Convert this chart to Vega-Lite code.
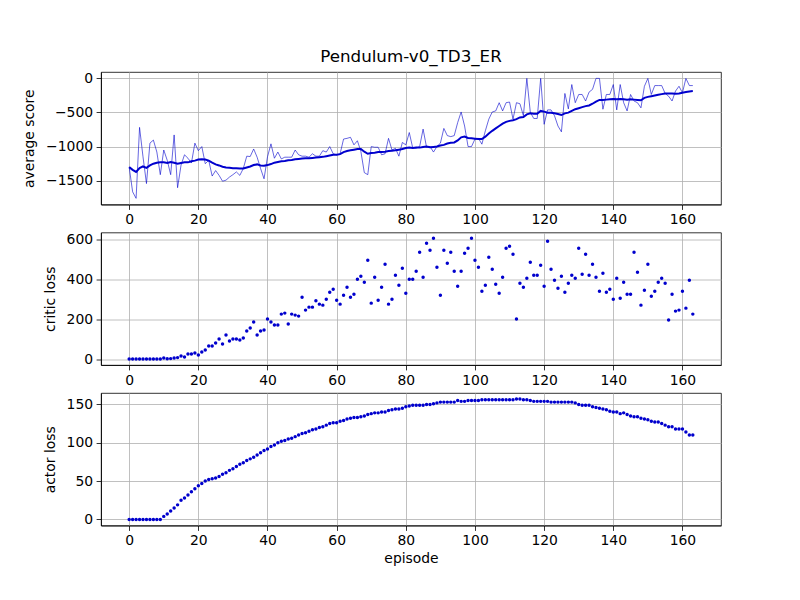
{
  "$schema": "https://vega.github.io/schema/vega-lite/v6.json",
  "description": "Pendulum-v0 TD3 with experience replay: score, critic loss and actor loss per episode",
  "background": "white",
  "padding": {"left": 22, "top": 48, "right": 5, "bottom": 5},
  "data": {
    "values": [
      {"ep": 0, "score": -1300, "avg": -1300, "critic": 0, "actor": 0},
      {"ep": 1, "score": -1660, "avg": -1340, "critic": 0, "actor": 0},
      {"ep": 2, "score": -1755, "avg": -1370, "critic": 0, "actor": 0},
      {"ep": 3, "score": -720, "avg": -1315, "critic": 0, "actor": 0},
      {"ep": 4, "score": -1150, "avg": -1290, "critic": 0, "actor": 0},
      {"ep": 5, "score": -1540, "avg": -1310, "critic": 0, "actor": 0},
      {"ep": 6, "score": -950, "avg": -1275, "critic": 0, "actor": 0},
      {"ep": 7, "score": -905, "avg": -1250, "critic": 0, "actor": 0},
      {"ep": 8, "score": -1080, "avg": -1235, "critic": 0, "actor": 0},
      {"ep": 9, "score": -1410, "avg": -1230, "critic": 0, "actor": 0},
      {"ep": 10, "score": -1050, "avg": -1230, "critic": 5, "actor": 4},
      {"ep": 11, "score": -1200, "avg": -1240, "critic": 1, "actor": 7},
      {"ep": 12, "score": -1410, "avg": -1225, "critic": 2, "actor": 11},
      {"ep": 13, "score": -830, "avg": -1235, "critic": 5, "actor": 15},
      {"ep": 14, "score": -1600, "avg": -1250, "critic": 7, "actor": 19},
      {"ep": 15, "score": -1270, "avg": -1240, "critic": 15, "actor": 25},
      {"ep": 16, "score": -1120, "avg": -1230, "critic": 10, "actor": 28},
      {"ep": 17, "score": -1170, "avg": -1230, "critic": 25, "actor": 32},
      {"ep": 18, "score": -1240, "avg": -1215, "critic": 25, "actor": 36},
      {"ep": 19, "score": -950, "avg": -1205, "critic": 30, "actor": 40},
      {"ep": 20, "score": -1060, "avg": -1190, "critic": 20, "actor": 44},
      {"ep": 21, "score": -1000, "avg": -1185, "critic": 35, "actor": 47},
      {"ep": 22, "score": -1250, "avg": -1190, "critic": 45, "actor": 50},
      {"ep": 23, "score": -1200, "avg": -1205, "critic": 65, "actor": 52},
      {"ep": 24, "score": -1430, "avg": -1235, "critic": 65, "actor": 53},
      {"ep": 25, "score": -1350, "avg": -1260, "critic": 80, "actor": 54},
      {"ep": 26, "score": -1420, "avg": -1275, "critic": 100, "actor": 56},
      {"ep": 27, "score": -1505, "avg": -1295, "critic": 75, "actor": 59},
      {"ep": 28, "score": -1490, "avg": -1305, "critic": 120, "actor": 61},
      {"ep": 29, "score": -1445, "avg": -1310, "critic": 90, "actor": 64},
      {"ep": 30, "score": -1410, "avg": -1315, "critic": 100, "actor": 66},
      {"ep": 31, "score": -1370, "avg": -1315, "critic": 100, "actor": 69},
      {"ep": 32, "score": -1420, "avg": -1320, "critic": 95, "actor": 72},
      {"ep": 33, "score": -1320, "avg": -1320, "critic": 105, "actor": 74},
      {"ep": 34, "score": -1140, "avg": -1305, "critic": 140, "actor": 77},
      {"ep": 35, "score": -1145, "avg": -1290, "critic": 155, "actor": 79},
      {"ep": 36, "score": -1035, "avg": -1270, "critic": 185, "actor": 81},
      {"ep": 37, "score": -1155, "avg": -1260, "critic": 120, "actor": 84},
      {"ep": 38, "score": -1320, "avg": -1275, "critic": 140, "actor": 87},
      {"ep": 39, "score": -1470, "avg": -1280, "critic": 145, "actor": 90},
      {"ep": 40, "score": -1150, "avg": -1270, "critic": 200, "actor": 92},
      {"ep": 41, "score": -960, "avg": -1255, "critic": 185, "actor": 95},
      {"ep": 42, "score": -1170, "avg": -1235, "critic": 170, "actor": 97},
      {"ep": 43, "score": -1080, "avg": -1225, "critic": 170, "actor": 100},
      {"ep": 44, "score": -1180, "avg": -1215, "critic": 225, "actor": 102},
      {"ep": 45, "score": -1155, "avg": -1210, "critic": 230, "actor": 103},
      {"ep": 46, "score": -1155, "avg": -1200, "critic": 175, "actor": 105},
      {"ep": 47, "score": -1155, "avg": -1195, "critic": 225, "actor": 106},
      {"ep": 48, "score": -1050, "avg": -1185, "critic": 220, "actor": 108},
      {"ep": 49, "score": -1120, "avg": -1180, "critic": 215, "actor": 110},
      {"ep": 50, "score": -1140, "avg": -1175, "critic": 310, "actor": 112},
      {"ep": 51, "score": -1140, "avg": -1170, "critic": 245, "actor": 113},
      {"ep": 52, "score": -1155, "avg": -1170, "critic": 260, "actor": 115},
      {"ep": 53, "score": -1105, "avg": -1165, "critic": 260, "actor": 117},
      {"ep": 54, "score": -1140, "avg": -1160, "critic": 292, "actor": 118},
      {"ep": 55, "score": -1140, "avg": -1155, "critic": 275, "actor": 120},
      {"ep": 56, "score": -1060, "avg": -1150, "critic": 270, "actor": 121},
      {"ep": 57, "score": -1080, "avg": -1140, "critic": 300, "actor": 123},
      {"ep": 58, "score": -1000, "avg": -1130, "critic": 335, "actor": 125},
      {"ep": 59, "score": -1105, "avg": -1120, "critic": 350, "actor": 126},
      {"ep": 60, "score": -1120, "avg": -1120, "critic": 295, "actor": 126},
      {"ep": 61, "score": -1105, "avg": -1110, "critic": 275, "actor": 128},
      {"ep": 62, "score": -890, "avg": -1080, "critic": 320, "actor": 129},
      {"ep": 63, "score": -880, "avg": -1065, "critic": 360, "actor": 131},
      {"ep": 64, "score": -865, "avg": -1055, "critic": 310, "actor": 132},
      {"ep": 65, "score": -975, "avg": -1045, "critic": 325, "actor": 133},
      {"ep": 66, "score": -915, "avg": -1035, "critic": 400, "actor": 133},
      {"ep": 67, "score": -1070, "avg": -1035, "critic": 415, "actor": 134},
      {"ep": 68, "score": -1380, "avg": -1075, "critic": 385, "actor": 135},
      {"ep": 69, "score": -1410, "avg": -1105, "critic": 495, "actor": 137},
      {"ep": 70, "score": -1000, "avg": -1095, "critic": 280, "actor": 138},
      {"ep": 71, "score": -1010, "avg": -1090, "critic": 410, "actor": 139},
      {"ep": 72, "score": -1010, "avg": -1080, "critic": 295, "actor": 139},
      {"ep": 73, "score": -1120, "avg": -1080, "critic": 360, "actor": 140},
      {"ep": 74, "score": -1105, "avg": -1075, "critic": 475, "actor": 140},
      {"ep": 75, "score": -880, "avg": -1065, "critic": 275, "actor": 142},
      {"ep": 76, "score": -1050, "avg": -1060, "critic": 300, "actor": 143},
      {"ep": 77, "score": -1025, "avg": -1055, "critic": 420, "actor": 144},
      {"ep": 78, "score": -1140, "avg": -1045, "critic": 370, "actor": 144},
      {"ep": 79, "score": -940, "avg": -1035, "critic": 455, "actor": 145},
      {"ep": 80, "score": -975, "avg": -1020, "critic": 330, "actor": 147},
      {"ep": 81, "score": -795, "avg": -1015, "critic": 400, "actor": 148},
      {"ep": 82, "score": -1020, "avg": -1020, "critic": 400, "actor": 149},
      {"ep": 83, "score": -1025, "avg": -1015, "critic": 440, "actor": 149},
      {"ep": 84, "score": -1000, "avg": -1015, "critic": 535, "actor": 149},
      {"ep": 85, "score": -745, "avg": -1005, "critic": 410, "actor": 149},
      {"ep": 86, "score": -1010, "avg": -1000, "critic": 580, "actor": 150},
      {"ep": 87, "score": -1000, "avg": -1010, "critic": 545, "actor": 150},
      {"ep": 88, "score": -1080, "avg": -1005, "critic": 605, "actor": 151},
      {"ep": 89, "score": -1000, "avg": -1000, "critic": 460, "actor": 152},
      {"ep": 90, "score": -950, "avg": -985, "critic": 320, "actor": 153},
      {"ep": 91, "score": -735, "avg": -975, "critic": 545, "actor": 153},
      {"ep": 92, "score": -840, "avg": -955, "critic": 480, "actor": 153},
      {"ep": 93, "score": -855, "avg": -945, "critic": 535, "actor": 153},
      {"ep": 94, "score": -840, "avg": -940, "critic": 440, "actor": 153},
      {"ep": 95, "score": -650, "avg": -910, "critic": 365, "actor": 155},
      {"ep": 96, "score": -495, "avg": -865, "critic": 440, "actor": 154},
      {"ep": 97, "score": -700, "avg": -855, "critic": 530, "actor": 154},
      {"ep": 98, "score": -1000, "avg": -875, "critic": 555, "actor": 155},
      {"ep": 99, "score": -1000, "avg": -880, "critic": 605, "actor": 155},
      {"ep": 100, "score": -890, "avg": -885, "critic": 495, "actor": 155},
      {"ep": 101, "score": -880, "avg": -890, "critic": 460, "actor": 155},
      {"ep": 102, "score": -965, "avg": -890, "critic": 340, "actor": 156},
      {"ep": 103, "score": -770, "avg": -855, "critic": 370, "actor": 156},
      {"ep": 104, "score": -600, "avg": -810, "critic": 510, "actor": 156},
      {"ep": 105, "score": -495, "avg": -770, "critic": 450, "actor": 156},
      {"ep": 106, "score": -480, "avg": -735, "critic": 375, "actor": 156},
      {"ep": 107, "score": -360, "avg": -700, "critic": 330, "actor": 156},
      {"ep": 108, "score": -480, "avg": -665, "critic": 410, "actor": 156},
      {"ep": 109, "score": -360, "avg": -640, "critic": 555, "actor": 156},
      {"ep": 110, "score": -350, "avg": -625, "critic": 565, "actor": 156},
      {"ep": 111, "score": -600, "avg": -615, "critic": 525, "actor": 156},
      {"ep": 112, "score": -360, "avg": -600, "critic": 200, "actor": 157},
      {"ep": 113, "score": -375, "avg": -575, "critic": 380, "actor": 157},
      {"ep": 114, "score": -550, "avg": -570, "critic": 360, "actor": 156},
      {"ep": 115, "score": -5, "avg": -530, "critic": 405, "actor": 156},
      {"ep": 116, "score": -500, "avg": -515, "critic": 485, "actor": 155},
      {"ep": 117, "score": -590, "avg": -520, "critic": 420, "actor": 154},
      {"ep": 118, "score": -590, "avg": -520, "critic": 420, "actor": 154},
      {"ep": 119, "score": -5, "avg": -480, "critic": 470, "actor": 154},
      {"ep": 120, "score": -675, "avg": -490, "critic": 365, "actor": 154},
      {"ep": 121, "score": -465, "avg": -505, "critic": 590, "actor": 154},
      {"ep": 122, "score": -465, "avg": -505, "critic": 450, "actor": 153},
      {"ep": 123, "score": -550, "avg": -515, "critic": 395, "actor": 153},
      {"ep": 124, "score": -700, "avg": -525, "critic": 355, "actor": 153},
      {"ep": 125, "score": -785, "avg": -540, "critic": 415, "actor": 153},
      {"ep": 126, "score": -225, "avg": -515, "critic": 335, "actor": 153},
      {"ep": 127, "score": -450, "avg": -505, "critic": 380, "actor": 153},
      {"ep": 128, "score": -95, "avg": -480, "critic": 420, "actor": 153},
      {"ep": 129, "score": -360, "avg": -455, "critic": 405, "actor": 152},
      {"ep": 130, "score": -240, "avg": -440, "critic": 555, "actor": 150},
      {"ep": 131, "score": -240, "avg": -425, "critic": 425, "actor": 149},
      {"ep": 132, "score": -335, "avg": -410, "critic": 525, "actor": 149},
      {"ep": 133, "score": -205, "avg": -400, "critic": 420, "actor": 149},
      {"ep": 134, "score": -165, "avg": -375, "critic": 475, "actor": 147},
      {"ep": 135, "score": -5, "avg": -345, "critic": 410, "actor": 146},
      {"ep": 136, "score": -5, "avg": -320, "critic": 340, "actor": 145},
      {"ep": 137, "score": -455, "avg": -320, "critic": 430, "actor": 144},
      {"ep": 138, "score": -240, "avg": -315, "critic": 335, "actor": 143},
      {"ep": 139, "score": -240, "avg": -310, "critic": 350, "actor": 141},
      {"ep": 140, "score": -95, "avg": -305, "critic": 300, "actor": 140},
      {"ep": 141, "score": -465, "avg": -310, "critic": 405, "actor": 140},
      {"ep": 142, "score": -95, "avg": -305, "critic": 305, "actor": 138},
      {"ep": 143, "score": -360, "avg": -310, "critic": 385, "actor": 139},
      {"ep": 144, "score": -480, "avg": -315, "critic": 325, "actor": 137},
      {"ep": 145, "score": -240, "avg": -310, "critic": 325, "actor": 135},
      {"ep": 146, "score": -335, "avg": -315, "critic": 535, "actor": 134},
      {"ep": 147, "score": -360, "avg": -320, "critic": 435, "actor": 134},
      {"ep": 148, "score": -435, "avg": -325, "critic": 270, "actor": 132},
      {"ep": 149, "score": -120, "avg": -290, "critic": 345, "actor": 131},
      {"ep": 150, "score": -5, "avg": -275, "critic": 475, "actor": 130},
      {"ep": 151, "score": -240, "avg": -265, "critic": 315, "actor": 128},
      {"ep": 152, "score": -110, "avg": -255, "critic": 340, "actor": 127},
      {"ep": 153, "score": -110, "avg": -245, "critic": 385, "actor": 127},
      {"ep": 154, "score": -110, "avg": -235, "critic": 405, "actor": 125},
      {"ep": 155, "score": -225, "avg": -225, "critic": 380, "actor": 123},
      {"ep": 156, "score": -265, "avg": -225, "critic": 195, "actor": 121},
      {"ep": 157, "score": -335, "avg": -225, "critic": 325, "actor": 121},
      {"ep": 158, "score": -190, "avg": -230, "critic": 240, "actor": 118},
      {"ep": 159, "score": -120, "avg": -225, "critic": 245, "actor": 118},
      {"ep": 160, "score": -215, "avg": -215, "critic": 340, "actor": 118},
      {"ep": 161, "score": -5, "avg": -205, "critic": 255, "actor": 114},
      {"ep": 162, "score": -110, "avg": -195, "critic": 395, "actor": 110},
      {"ep": 163, "score": -110, "avg": -190, "critic": 225, "actor": 110}
    ]
  },
  "spacing": 27.5,
  "bounds": "flush",
  "resolve": {"scale": {"y": "independent"}},
  "vconcat": [
    {
      "width": 620,
      "height": 132.5,
      "title": {
        "text": "Pendulum-v0_TD3_ER",
        "anchor": "middle",
        "frame": "group",
        "fontSize": 16.7,
        "fontWeight": "normal",
        "font": "DejaVu Sans",
        "color": "black",
        "offset": 5
      },
      "encoding": {
        "x": {
          "field": "ep",
          "type": "quantitative",
          "scale": {"domain": [-8.15, 171.15], "nice": false, "zero": false},
          "axis": {"values": [0, 20, 40, 60, 80, 100, 120, 140, 160], "title": null, "format": "d"}
        }
      },
      "layer": [
        {
          "mark": {"type": "line", "color": "#0000cd", "strokeWidth": 0.8, "opacity": 0.75},
          "encoding": {
            "y": {
              "field": "score",
              "type": "quantitative",
              "scale": {"domain": [-1845, 88], "nice": false, "zero": false},
              "axis": {"values": [-1500, -1000, -500, 0], "title": "average score", "format": "d"}
            }
          }
        },
        {
          "mark": {"type": "line", "color": "#0000cd", "strokeWidth": 2},
          "encoding": {
            "y": {"field": "avg", "type": "quantitative"}
          }
        }
      ]
    },
    {
      "width": 620,
      "height": 132.5,
      "mark": {"type": "circle", "color": "#0000cd", "size": 12, "opacity": 1},
      "encoding": {
        "x": {
          "field": "ep",
          "type": "quantitative",
          "scale": {"domain": [-8.15, 171.15], "nice": false, "zero": false},
          "axis": {"values": [0, 20, 40, 60, 80, 100, 120, 140, 160], "title": null, "format": "d"}
        },
        "y": {
          "field": "critic",
          "type": "quantitative",
          "scale": {"domain": [-30, 634], "nice": false, "zero": false},
          "axis": {"values": [0, 200, 400, 600], "title": "critic loss", "format": "d"}
        }
      }
    },
    {
      "width": 620,
      "height": 132.5,
      "mark": {"type": "circle", "color": "#0000cd", "size": 12, "opacity": 1},
      "encoding": {
        "x": {
          "field": "ep",
          "type": "quantitative",
          "scale": {"domain": [-8.15, 171.15], "nice": false, "zero": false},
          "axis": {"values": [0, 20, 40, 60, 80, 100, 120, 140, 160], "title": "episode", "format": "d"}
        },
        "y": {
          "field": "actor",
          "type": "quantitative",
          "scale": {"domain": [-7.9, 164.9], "nice": false, "zero": false},
          "axis": {"values": [0, 50, 100, 150], "title": "actor loss", "format": "d"}
        }
      }
    }
  ],
  "config": {
    "font": "DejaVu Sans",
    "view": {"stroke": "black", "strokeWidth": 0.8},
    "axis": {
      "labelFont": "DejaVu Sans",
      "labelFontSize": 13.9,
      "labelColor": "black",
      "labelPadding": 3.5,
      "labelFlush": false,
      "labelOverlap": false,
      "labelBound": false,
      "titleFont": "DejaVu Sans",
      "titleFontSize": 13.9,
      "titleFontWeight": "normal",
      "titleColor": "black",
      "tickColor": "black",
      "tickSize": 4.9,
      "tickWidth": 0.8,
      "domainColor": "black",
      "domainWidth": 0.8,
      "grid": true,
      "gridColor": "#b0b0b0",
      "gridWidth": 0.8
    },
    "axisY": {"titlePadding": 9},
    "axisX": {"titlePadding": 4}
  }
}
